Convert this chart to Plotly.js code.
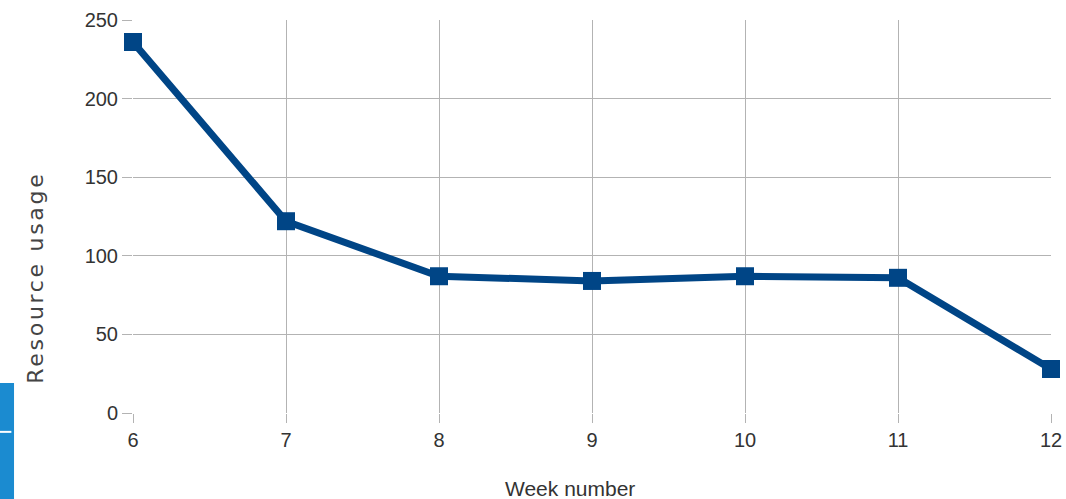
<!DOCTYPE html>
<html>
<head>
<meta charset="utf-8">
<script src="https://cdn.plot.ly/plotly-3.0.1.min.js"></script>
<style>
html,body{margin:0;padding:0;background:#fff;}
#chart{width:1066px;height:499px;}
.annotation[data-index="1"] text{letter-spacing:2.7px;}
</style>
</head>
<body>
<div id="chart"></div>
<script>
const weeks = [6, 7, 8, 9, 10, 11, 12];
const usage = [236, 122, 87, 84, 87, 86, 28];
const yTicks = [0, 50, 100, 150, 200, 250];
const xTitle = 'Week number';
const yTitle = 'Resource usage';

const trace = {
  x: weeks, y: usage, type: 'scatter', mode: 'lines+markers',
  line: {color: '#004586', width: 7},
  marker: {symbol: 'square', size: 18, color: '#004586'},
  cliponaxis: false, hoverinfo: 'none'
};

const layout = {
  width: 1066, height: 499,
  margin: {l: 133, r: 15, t: 20, b: 86},
  paper_bgcolor: '#fff', plot_bgcolor: '#fff',
  showlegend: false,
  font: {family: 'Liberation Sans, Arial, sans-serif', color: '#333', size: 20},
  xaxis: {
    range: [6, 12], tickvals: weeks, ticktext: weeks.map(String),
    showgrid: true, gridcolor: '#b3b3b3', gridwidth: 1,
    zeroline: false, showline: false,
    ticks: 'outside', ticklen: 9, tickcolor: '#b3b3b3', tickwidth: 1,
    tickfont: {size: 20, color: '#333'}
  },
  yaxis: {
    range: [0, 250], tickvals: yTicks,
    showgrid: true, gridcolor: '#b3b3b3', gridwidth: 1,
    zeroline: false, showline: false,
    ticks: 'outside', ticklen: 10, tickcolor: '#b3b3b3', tickwidth: 1,
    tickfont: {size: 20, color: '#333'}
  },
  annotations: [
    {text: xTitle, xref: 'paper', yref: 'paper', x: 0.476, y: -0.191,
     xanchor: 'center', yanchor: 'middle', showarrow: false,
     font: {family: 'Liberation Sans, Arial, sans-serif', size: 21, color: '#333'}},
    {text: yTitle, xref: 'paper', yref: 'paper', x: -0.107, y: 0.3435,
     xanchor: 'center', yanchor: 'middle', showarrow: false, textangle: -90,
     font: {family: 'DejaVu Sans, sans-serif', size: 22, color: '#444'}}
  ],
  shapes: [
    {type: 'rect', xref: 'paper', yref: 'paper', x0: -0.1449, x1: -0.1296, y0: -0.22, y1: 0.0763,
     fillcolor: '#1b8bd0', line: {width: 0}, layer: 'above'},
    {type: 'line', xref: 'paper', yref: 'paper', x0: -0.1449, x1: -0.1325, y0: -0.048, y1: -0.048,
     line: {color: '#fff', width: 2}, layer: 'above'}
  ]
};

Plotly.newPlot('chart', [trace], layout, {displayModeBar: false, staticPlot: true});
</script>
</body>
</html>
